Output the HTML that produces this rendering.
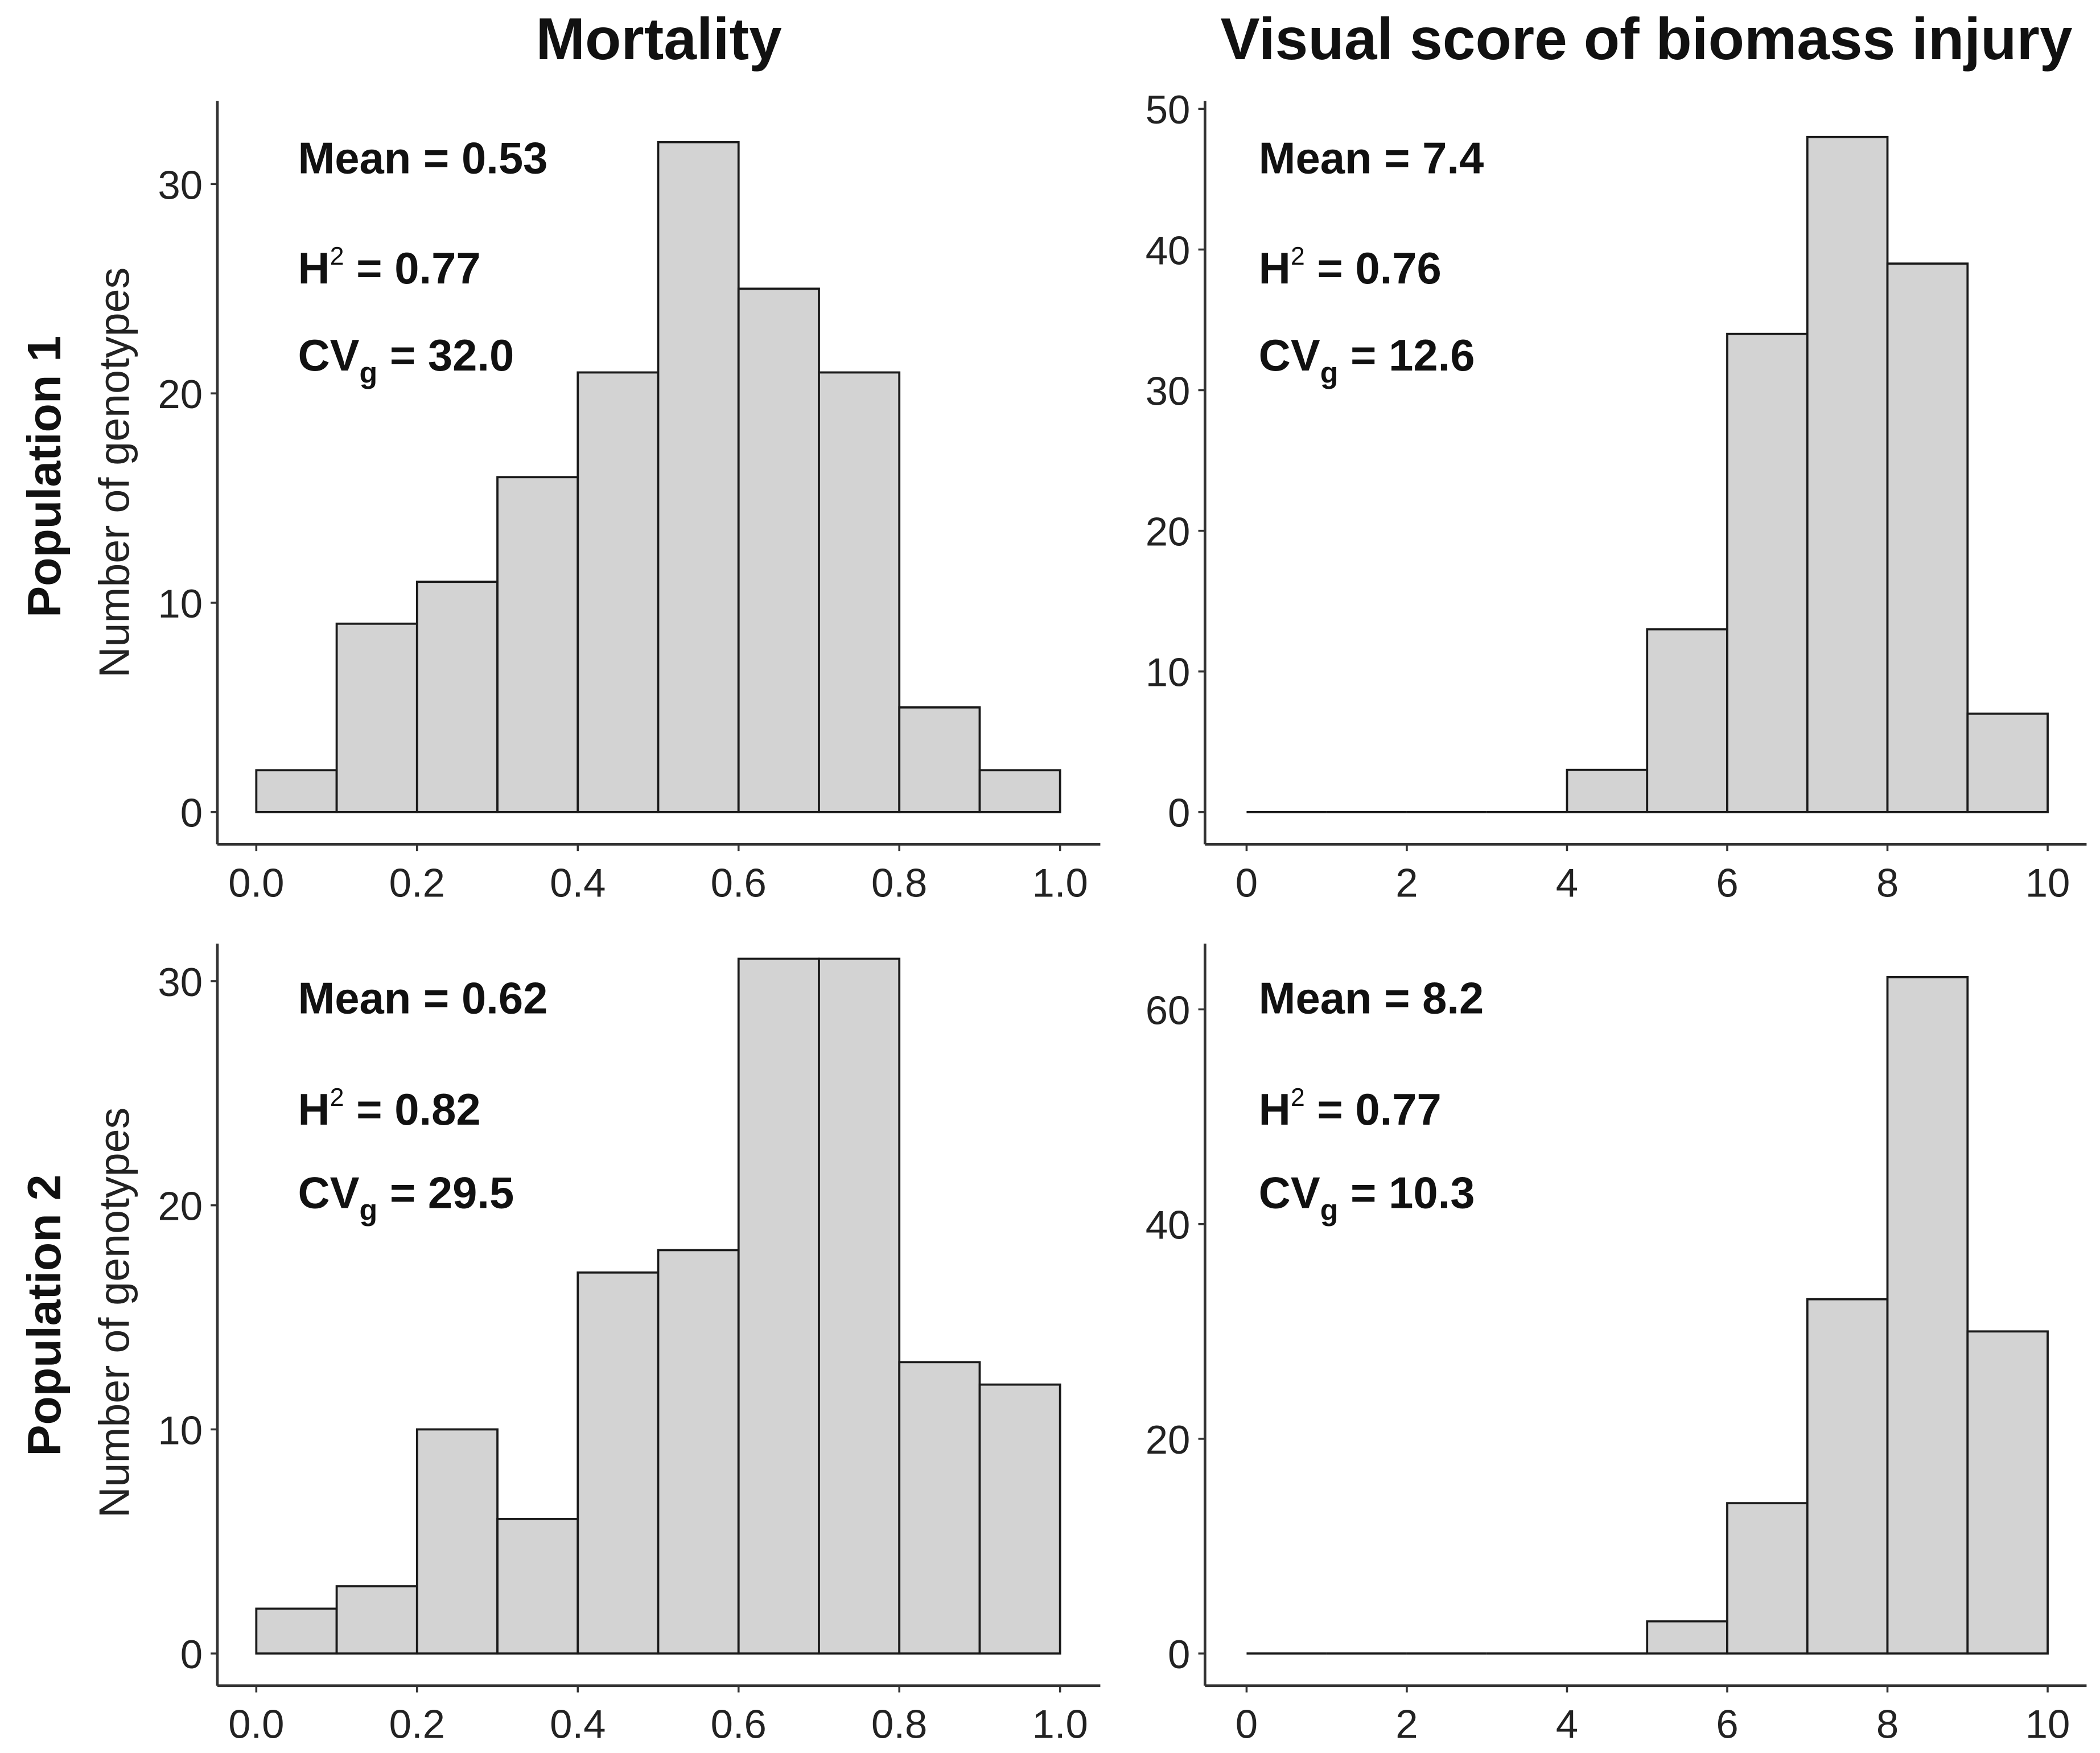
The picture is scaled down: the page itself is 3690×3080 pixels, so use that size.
<!DOCTYPE html>
<html><head><meta charset="utf-8"><style>html,body{margin:0;padding:0;background:#fff}svg{display:block}</style></head>
<body>
<svg id="chart" width="3690" height="3080" viewBox="0 0 1565 1306" xmlns="http://www.w3.org/2000/svg" font-family="'Liberation Sans', sans-serif">
<text x="491" y="44" text-anchor="middle" font-weight="bold" font-size="44" fill="#111">Mortality</text>
<text x="1227" y="44" text-anchor="middle" font-weight="bold" font-size="44" fill="#111">Visual score of biomass injury</text>
<text transform="translate(45,355) rotate(-90)" text-anchor="middle" font-weight="bold" font-size="35" fill="#111">Population 1</text>
<text transform="translate(96,352) rotate(-90)" text-anchor="middle" font-size="32" fill="#222">Number of genotypes</text>
<text transform="translate(45,980) rotate(-90)" text-anchor="middle" font-weight="bold" font-size="35" fill="#111">Population 2</text>
<text transform="translate(96,978) rotate(-90)" text-anchor="middle" font-size="32" fill="#222">Number of genotypes</text>
</svg>
<script>
const tlCounts = [2,9,11,16,21,32,25,21,5,2];
const trCounts = [0,0,0,0,3,13,34,48,39,7];
const blCounts = [2,3,10,6,17,18,31,31,13,12];
const brCounts = [0,0,0,0,0,3,14,33,63,30];
const mortTicks = ["0.0","0.2","0.4","0.6","0.8","1.0"];
const scoreTicks = ["0","2","4","6","8","10"];
const tlYTicks = [0,10,20,30];
const trYTicks = [0,10,20,30,40,50];
const blYTicks = [0,10,20,30];
const brYTicks = [0,20,40,60];
const tlStats = ["0.53","0.77","32.0"];
const trStats = ["7.4","0.76","12.6"];
const blStats = ["0.62","0.82","29.5"];
const brStats = ["8.2","0.77","10.3"];

const svg = document.getElementById('chart');
const NS = 'http://www.w3.org/2000/svg';
function mk(tag, attrs, parent){const e=document.createElementNS(NS,tag);for(const k in attrs)e.setAttribute(k,attrs[k]);(parent||svg).appendChild(e);return e;}

function panel(id, counts, xTicks, xMax, yTicks, yTop, stats, geo){
  const g = mk('g',{});
  
  
  const xs = v => geo.x0 + (v / xMax) * (geo.x1 - geo.x0);
  const ys = v => geo.y0 - (v / yTop) * (geo.y0 - geo.yTopPx);
  const bw = xMax / counts.length;
  counts.forEach((c, i) => {
    if (c === 0) {
      const l = mk('line',{x1:xs(i*bw), y1:ys(0), x2:xs((i+1)*bw), y2:ys(0), stroke:'#1a1a1a', 'stroke-width':1.6}, g);
      
      
      return;
    }
    const r = mk('rect',{x:xs(i*bw), y:ys(c), width:xs((i+1)*bw)-xs(i*bw), height:ys(0)-ys(c), fill:'#d3d3d3', stroke:'#1a1a1a', 'stroke-width':1.6}, g);
    
    
  });
  const ya = mk('line',{x1:geo.ax, y1:geo.axTop, x2:geo.ax, y2:geo.axBottom, stroke:'#333', 'stroke-width':2}, g);
  
  
  const xa = mk('line',{x1:geo.ax, y1:geo.axBottom, x2:geo.axRight, y2:geo.axBottom, stroke:'#333', 'stroke-width':2}, g);
  
  
  xTicks.forEach((t, i) => {
    const x = xs(i * xMax / (xTicks.length - 1));
    mk('line',{x1:x, y1:geo.axBottom, x2:x, y2:geo.axBottom+5, stroke:'#333','stroke-width':1.5}, g);
    const tx = mk('text',{x:x, y:geo.axBottom+39, 'text-anchor':'middle', 'font-size':30, fill:'#222'}, g);
    tx.textContent = t;
    
    
  });
  yTicks.forEach(t => {
    const y = ys(t);
    mk('line',{x1:geo.ax-5, y1:y, x2:geo.ax, y2:y, stroke:'#333','stroke-width':1.5}, g);
    const tx = mk('text',{x:geo.ax-11, y:y+11, 'text-anchor':'end', 'font-size':30, fill:'#222'}, g);
    tx.textContent = t;
    
    
  });
  const lx = geo.ax + geo.annDx;
  const t1 = mk('text',{x:lx, y:geo.ann[0], 'font-size':33, 'font-weight':'bold', fill:'#111'}, g);
  t1.textContent = 'Mean = ' + stats[0];
  
  
  const t2 = mk('text',{x:lx, y:geo.ann[1], 'font-size':33, 'font-weight':'bold', fill:'#111'}, g);
  t2.innerHTML = 'H<tspan dy="-14" font-size="19" font-weight="normal">2</tspan><tspan dy="14"> = ' + stats[1] + '</tspan>';
  
  
  const t3 = mk('text',{x:lx, y:geo.ann[2], 'font-size':33, 'font-weight':'bold', fill:'#111'}, g);
  t3.innerHTML = 'CV<tspan dy="9" font-size="22">g</tspan><tspan dy="-9"> = ' + stats[2] + '</tspan>';
  
  
}

panel('mortality-pop1', tlCounts, mortTicks, 1, tlYTicks, 30, tlStats,
  {x0:191,x1:790,y0:605,yTopPx:137,ax:162,axTop:75,axBottom:629,axRight:820,ann:[129,211,276],annDx:60});
panel('score-pop1', trCounts, scoreTicks, 10, trYTicks, 50, trStats,
  {x0:929,x1:1526,y0:605,yTopPx:81,ax:898,axTop:75,axBottom:629,axRight:1555,ann:[129,211,276],annDx:40});
panel('mortality-pop2', blCounts, mortTicks, 1, blYTicks, 30, blStats,
  {x0:191,x1:790,y0:1232,yTopPx:731,ax:162,axTop:703,axBottom:1256,axRight:820,ann:[755,838,900],annDx:60});
panel('score-pop2', brCounts, scoreTicks, 10, brYTicks, 60, brStats,
  {x0:929,x1:1526,y0:1232,yTopPx:752,ax:898,axTop:703,axBottom:1256,axRight:1555,ann:[755,838,900],annDx:40});
</script>
</body></html>
